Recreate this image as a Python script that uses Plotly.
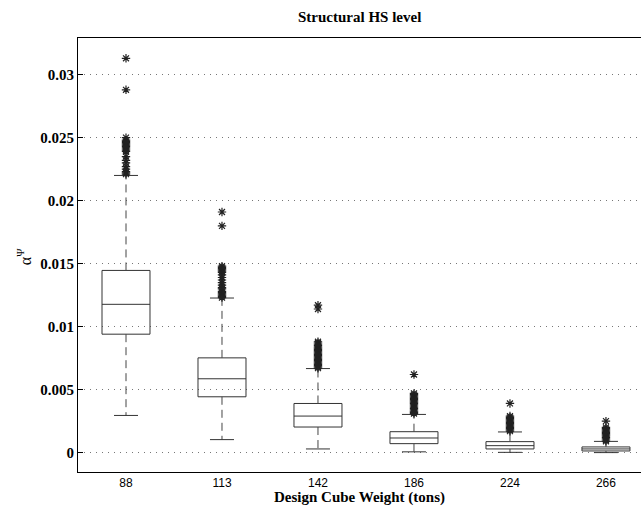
import plotly.graph_objects as go

categories = ["88", "113", "142", "186", "224", "266"]
lower_whisker = [0.00295, 0.00103, 0.00029, 0.00006, 0.00002, 0.0]
q1 = [0.0094, 0.00443, 0.00203, 0.00071, 0.00029, 0.00013]
median = [0.01177, 0.00586, 0.0029, 0.00116, 0.00055, 0.00029]
q3 = [0.01446, 0.00752, 0.0039, 0.00166, 0.00087, 0.00045]
upper_whisker = [0.0220, 0.01227, 0.00667, 0.00303, 0.00164, 0.00089]

outliers_88 = [0.0313, 0.0288, 0.0250, 0.0248, 0.0247, 0.0246, 0.0245, 0.0244, 0.0243,
               0.0242, 0.0241, 0.0240, 0.0239, 0.0235, 0.0232, 0.0230, 0.0227, 0.0225,
               0.0223, 0.0222, 0.0221]
outliers_113 = [0.0191, 0.0180, 0.0148, 0.0147, 0.0146, 0.0145, 0.0144, 0.0143, 0.0141,
                0.0139, 0.0137, 0.0135, 0.0133, 0.0131, 0.0130, 0.0128, 0.0127, 0.0126,
                0.0125, 0.0124, 0.0123]
outliers_142 = [0.0117, 0.0114, 0.0088, 0.0087, 0.0086, 0.0085, 0.0084, 0.0083, 0.0082,
                0.0081, 0.0080, 0.0079, 0.0078, 0.0077, 0.0076, 0.0075, 0.0074, 0.0073,
                0.0072, 0.0071, 0.0070, 0.0069, 0.0068, 0.0067]
outliers_186 = [0.0062, 0.0047, 0.0046, 0.0045, 0.0044, 0.0043, 0.0042, 0.0041, 0.0040,
                0.0039, 0.0038, 0.0037, 0.0036, 0.0035, 0.0034, 0.0033, 0.0032, 0.0031]
outliers_224 = [0.0039, 0.0029, 0.0028, 0.0027, 0.0026, 0.0025, 0.0024, 0.0023, 0.0022,
                0.0021, 0.0020, 0.0019, 0.0018, 0.0017]
outliers_266 = [0.0025, 0.0020, 0.0019, 0.0018, 0.0017, 0.0016, 0.0015, 0.0014, 0.0013,
                0.0012, 0.0011, 0.0010, 0.0009]
outliers = [outliers_88, outliers_113, outliers_142, outliers_186, outliers_224, outliers_266]

y_tick_vals = [0, 0.005, 0.01, 0.015, 0.02, 0.025, 0.03]
y_tick_text = ["0", "0.005", "0.01", "0.015", "0.02", "0.025", "0.03"]

SERIF = "Liberation Serif"
SANS = "Liberation Sans"
DARK = "#333333"

positions = list(range(1, len(categories) + 1))
fig = go.Figure()

# dashed whiskers
wx, wy = [], []
for i, p in enumerate(positions):
    wx += [p, p, None, p, p, None]
    wy += [q3[i], upper_whisker[i], None, q1[i], lower_whisker[i], None]
fig.add_trace(go.Scatter(x=wx, y=wy, mode="lines",
                         line=dict(color="#444444", width=1, dash="8px,5px"),
                         hoverinfo="skip", showlegend=False))

# whisker caps
cx, cy = [], []
cap = 0.125
for i, p in enumerate(positions):
    cx += [p - cap, p + cap, None, p - cap, p + cap, None]
    cy += [upper_whisker[i], upper_whisker[i], None, lower_whisker[i], lower_whisker[i], None]
fig.add_trace(go.Scatter(x=cx, y=cy, mode="lines",
                         line=dict(color=DARK, width=1),
                         hoverinfo="skip", showlegend=False))

# boxes
fig.add_trace(go.Box(x=positions, q1=q1, median=median, q3=q3,
                     lowerfence=q1, upperfence=q3, width=0.5, whiskerwidth=0,
                     boxpoints=False, fillcolor="rgba(255,255,255,0)",
                     line=dict(color=DARK, width=1), showlegend=False,
                     hoverinfo="skip"))

# outliers
ox, oy = [], []
for i, p in enumerate(positions):
    ox += [p] * len(outliers[i])
    oy += outliers[i]
fig.add_trace(go.Scatter(x=ox, y=oy, mode="markers",
                         marker=dict(symbol="asterisk-open", size=7, color="#222222",
                                     line=dict(color="#222222", width=1.2)),
                         hoverinfo="skip", showlegend=False))

fig.update_layout(
    width=641, height=507,
    margin=dict(l=78, r=0, t=38, b=35),
    paper_bgcolor="white", plot_bgcolor="white",
    showlegend=False,
    xaxis=dict(range=[0.5, 6.365], tickvals=positions, ticktext=categories,
               showgrid=False, zeroline=False, showline=True, mirror=True,
               linecolor="black", linewidth=1, ticks="",
               tickfont=dict(family=SANS, size=12, color="black")),
    yaxis=dict(range=[-0.00154, 0.03291], tickvals=y_tick_vals,
               ticktext=["<b>" + t + "</b>" for t in y_tick_text],
               showgrid=True, gridcolor="#777777", griddash="1px,5px", gridwidth=1,
               zeroline=False, showline=True, mirror=False,
               linecolor="black", linewidth=1, ticks="inside", ticklen=5,
               tickcolor="black",
               tickfont=dict(family=SERIF, size=15, color="black")),
    annotations=[
        dict(text="<b>Structural HS level</b>", xref="paper", yref="paper",
             x=0.5, y=1, yshift=21, xanchor="center", yanchor="middle",
             showarrow=False, font=dict(family=SERIF, size=15, color="black")),
        dict(text="<b>Design Cube Weight (tons)</b>", xref="paper", yref="paper",
             x=0.5, y=0, yshift=-25, xanchor="center", yanchor="middle",
             showarrow=False, font=dict(family=SERIF, size=15, color="black")),
        dict(text="α<sup>Ψ</sup>", xref="paper", yref="paper",
             x=0, xshift=-54, y=0.495, textangle=-90,
             xanchor="center", yanchor="middle",
             showarrow=False, font=dict(family=SERIF, size=16, color="black")),
    ],
)

fig.write_html("out.html")
